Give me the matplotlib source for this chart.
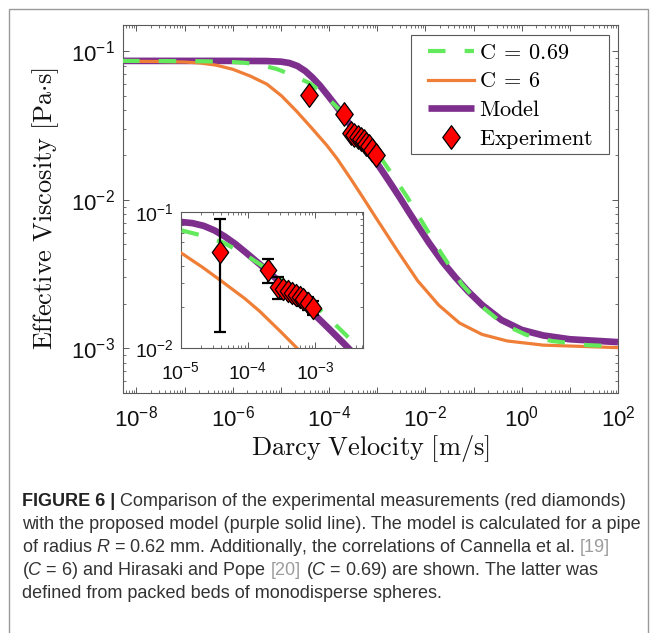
import numpy as np
import matplotlib
matplotlib.use("Agg")
import matplotlib.pyplot as plt
from matplotlib.ticker import LogLocator, NullFormatter
from matplotlib.patches import Rectangle
from matplotlib.path import Path
from matplotlib.font_manager import FontProperties

plt.rcParams['font.family'] = ['Liberation Sans', 'DejaVu Sans']
plt.rcParams['mathtext.fontset'] = 'custom'
plt.rcParams['mathtext.rm'] = 'Liberation Sans'
plt.rcParams['mathtext.it'] = 'Liberation Sans:italic'
plt.rcParams['mathtext.bf'] = 'Liberation Sans:bold'

# ---------------- data ----------------
v_c069 = [5e-9, 2.5e-7, 8.3e-7, 1.75e-6, 3.7e-6, 8.3e-6, 1.9e-5, 4.2e-5, 8.5e-5,
          1.75e-4, 3.6e-4, 7.5e-4, 1.25e-3, 2.5e-3, 4.2e-3, 7.7e-3, 2.1e-2, 5.7e-2,
          0.158, 0.42, 1.25, 4.2, 23, 100]
mu_c069 = [0.086, 0.0855, 0.0848, 0.0835, 0.081, 0.0757, 0.0682, 0.0602, 0.0500,
           0.0395, 0.0305, 0.0232, 0.0187, 0.0134, 0.0104, 0.0075, 0.0044, 0.0027,
           0.00188, 0.00145, 0.00123, 0.00112, 0.00105, 0.00103]

v_c6 = [5e-9, 3e-8, 1e-7, 2.1e-7, 4.5e-7, 1.0e-6, 2.3e-6, 5.1e-6, 1.03e-5, 2.1e-5,
        4.3e-5, 9e-5, 1.5e-4, 3e-4, 5e-4, 9.3e-4, 2.55e-3, 6.9e-3, 1.9e-2, 5.1e-2,
        0.15, 0.5, 2.8, 100]
mu_c6 = [0.0855, 0.0852, 0.0845, 0.0832, 0.0805, 0.0755, 0.068, 0.0600, 0.0500, 0.0395,
         0.0305, 0.0232, 0.0187, 0.0134, 0.0104, 0.0076, 0.0046, 0.00285, 0.00195, 0.00148,
         0.00124, 0.00112, 0.00105, 0.00101]

v_model = [5e-9, 1e-6, 5e-6, 1e-5, 1.5e-5, 2.2e-5, 3.2e-5, 4.5e-5, 6.5e-5, 9.6e-5,
           1.5e-4, 2.4e-4, 4e-4, 6e-4, 1e-3, 1.5e-3, 2.8e-3, 4.5e-3, 6.9e-3, 1.2e-2,
           2.3e-2, 4.2e-2, 7.6e-2, 0.15, 0.38, 1.0, 2.8, 10, 100]
mu_model = [0.086, 0.086, 0.0858, 0.0850, 0.0832, 0.0795, 0.0735, 0.0665, 0.0585, 0.0500,
            0.0415, 0.0338, 0.0270, 0.0222, 0.0175, 0.0144, 0.0106, 0.0083, 0.0067, 0.0051,
            0.0038, 0.0030, 0.00243, 0.00196, 0.00155, 0.00133, 0.00122, 0.00115, 0.0011]

v_exp = [3.9e-5, 2.0e-4, 2.85e-4, 3.35e-4, 3.9e-4, 4.5e-4, 5.2e-4, 5.9e-4, 6.7e-4, 7.7e-4, 9.3e-4]
mu_exp = [0.051, 0.0378, 0.0282, 0.0272, 0.0265, 0.0256, 0.0247, 0.0238, 0.0229, 0.0216, 0.0199]
err_low = [0.0378, 0.0075, 0.0053, 0.0030, 0.0030, 0.0028, 0.0027, 0.0026, 0.0025, 0.0024, 0.0022]
err_high = [0.039, 0.0076, 0.0055, 0.0030, 0.0030, 0.0028, 0.0027, 0.0026, 0.0025, 0.0024, 0.0022]

main_xticks = [1e-8, 1e-7, 1e-6, 1e-5, 1e-4, 1e-3, 1e-2, 1e-1, 1e0, 1e1, 1e2]
main_xlabels = [r'$\mathrm{10^{-8}}$', '', r'$\mathrm{10^{-6}}$', '', r'$\mathrm{10^{-4}}$', '',
                r'$\mathrm{10^{-2}}$', '', r'$\mathrm{10^{0}}$', '', r'$\mathrm{10^{2}}$']
main_yticks = [1e-3, 1e-2, 1e-1]
main_ylabels = [r'$\mathrm{10^{-3}}$', r'$\mathrm{10^{-2}}$', r'$\mathrm{10^{-1}}$']
inset_xticks = [1e-5, 1e-4, 1e-3]
inset_xlabels = [r'$\mathrm{10^{-5}}$', r'$\mathrm{10^{-4}}$', r'$\mathrm{10^{-3}}$']
inset_yticks = [1e-2, 1e-1]
inset_ylabels = [r'$\mathrm{10^{-2}}$', r'$\mathrm{10^{-1}}$']

legend_labels = [r'$\mathrm{C\:=\:0.69}$', r'$\mathrm{C\:=\:6}$', r'$\mathrm{Model}$',
                 r'$\mathrm{Experiment}$']

DARK, REF, BOLD = '#333333', '#9c9c9c', '#222222'
caption_segments = [
    [("FIGURE 6 |", BOLD, 'bold'), ("Comparison of the experimental measurements (red diamonds)", DARK, 'normal')],
    [("with the proposed model (purple solid line). The model is calculated for a pipe", DARK, 'normal')],
    [("of radius $R$ = 0.62 mm. Additionally, the correlations of Cannella et al.", DARK, 'normal'),
     ("[19]", REF, 'normal')],
    [("($C$ = 6) and Hirasaki and Pope", DARK, 'normal'), ("[20]", REF, 'normal'),
     ("($C$ = 0.69) are shown. The latter was", DARK, 'normal')],
    [("defined from packed beds of monodisperse spheres.", DARK, 'normal')],
]

# ---------------- styles ----------------
GREEN = '#62EA5C'
ORANGE = '#EF7F37'
PURPLE = '#7E2F8E'
AXC = '#5a5a5a'
diamond = Path([(0, 1), (0.74, 0), (0, -1), (-0.74, 0), (0, 1)],
               [Path.MOVETO, Path.LINETO, Path.LINETO, Path.LINETO, Path.CLOSEPOLY])

W, H = 655, 633
fig = plt.figure(figsize=(W / 100, H / 100), dpi=100)
fig.patch.set_facecolor('white')


def fx(px):
    return px / W


def fy(py):
    return 1 - py / H


def style_axes(ax, fs, xpad, ypad):
    ax.set_xscale('log')
    ax.set_yscale('log')
    for s in ax.spines.values():
        s.set_color(AXC)
        s.set_linewidth(0.8)
    ax.xaxis.set_minor_locator(LogLocator(base=10, subs=np.arange(2, 10), numticks=100))
    ax.yaxis.set_minor_locator(LogLocator(base=10, subs=np.arange(2, 10), numticks=100))
    ax.xaxis.set_minor_formatter(NullFormatter())
    ax.yaxis.set_minor_formatter(NullFormatter())
    ax.tick_params(which='both', direction='in', top=True, right=True, color=AXC,
                   labelsize=fs, labelcolor='#111111')
    ax.tick_params(which='major', length=4.5, width=0.7)
    ax.tick_params(which='minor', length=2.3, width=0.6)
    ax.tick_params(axis='x', which='major', pad=xpad)
    ax.tick_params(axis='y', which='major', pad=ypad)


# ---------------- main axes ----------------
AX_L, AX_R, AX_T, AX_B = 123, 618, 25, 393
ax = fig.add_axes([fx(AX_L), fy(AX_B), (AX_R - AX_L) / W, (AX_B - AX_T) / H])
style_axes(ax, 16, 9, 6)
l_model, = ax.plot(v_model, mu_model, color=PURPLE, lw=4.8, solid_capstyle='butt', zorder=2)
l_c6, = ax.plot(v_c6, mu_c6, color=ORANGE, lw=2.3, zorder=3)
l_c069, = ax.plot(v_c069, mu_c069, color=GREEN, lw=3.0, ls=(0, (4.2, 4.6)), zorder=4)
l_exp, = ax.plot(v_exp, mu_exp, ls='none', marker=diamond, ms=17, mfc='#FF0000',
                 mec='black', mew=0.9, zorder=5)
ax.set_xlim(5.25e-9, 100)
ax.set_ylim(5.0e-4, 0.15)
ax.set_xticks(main_xticks)
ax.set_xticklabels(main_xlabels)
ax.set_yticks(main_yticks)
ax.set_yticklabels(main_ylabels)

ax.set_xlabel(r'$\mathrm{Darcy\ Velocity\ [m/s]}$', fontsize=19, math_fontfamily='cm',
              va='center', color='#111111')
ax.xaxis.set_label_coords(0.5, (AX_B - 449) / (AX_B - AX_T))
ax.set_ylabel(r'$\mathrm{Effective\ Viscosity\ [Pa{\cdot}s]}$', fontsize=19,
              math_fontfamily='cm', va='center', color='#111111')
ax.yaxis.set_label_coords((46 - AX_L) / (AX_R - AX_L), 0.5)


def ax_x(px):
    return (px - AX_L) / (AX_R - AX_L)


def ax_y(py):
    return (AX_B - py) / (AX_B - AX_T)


# legend box (frame drawn separately for the wider side padding of the reference)
ax.add_patch(Rectangle((ax_x(411), ax_y(154)), ax_x(609) - ax_x(411), ax_y(35) - ax_y(154),
                       transform=ax.transAxes, facecolor='white', edgecolor=AXC,
                       lw=0.8, zorder=6))
leg = ax.legend([l_c069, l_c6, l_model, l_exp], legend_labels,
                loc='upper left', bbox_to_anchor=(ax_x(428), ax_y(43)), borderaxespad=0,
                prop=FontProperties(size=16, math_fontfamily='cm'),
                handlelength=2.08, handletextpad=0.2, labelspacing=0.33,
                borderpad=0.0, frameon=False)
leg.set_zorder(7)

# ---------------- inset ----------------
axi = fig.add_axes([fx(180.7), fy(348.3), (362.7 - 180.7) / W, (348.3 - 212.3) / H])
style_axes(axi, 14, 9, 5)
axi.plot(v_model, mu_model, color=PURPLE, lw=4.8, solid_capstyle='butt', zorder=2)
axi.plot(v_c6, mu_c6, color=ORANGE, lw=2.3, zorder=3)
axi.plot(v_c069, mu_c069, color=GREEN, lw=3.0, ls=(0, (4.2, 4.6)), zorder=4)
axi.errorbar(v_exp, mu_exp, yerr=[err_low, err_high], fmt='none', ecolor='black',
             elinewidth=1.6, capsize=4, capthick=1.6, zorder=5)
axi.plot(v_exp, mu_exp, ls='none', marker=diamond, ms=16, mfc='#FF0000',
         mec='black', mew=0.9, zorder=6)
axi.set_xlim(1e-5, 5.1e-3)
axi.set_ylim(1e-2, 1e-1)
axi.set_xticks(inset_xticks)
axi.set_xticklabels(inset_xlabels)
axi.set_yticks(inset_yticks)
axi.set_yticklabels(inset_ylabels)

# ---------------- frame and caption ----------------
fig.add_artist(Rectangle((fx(8.5), -0.05), (648 - 8.5) / W, fy(9) + 0.05,
                         transform=fig.transFigure, fill=False, edgecolor='#9a9a9a',
                         lw=1.0, zorder=0))

renderer = fig.canvas.get_renderer()
cap_fs = 13
probe1 = fig.text(0, 0, "aa", fontsize=cap_fs)
probe2 = fig.text(0, 0, "a a", fontsize=cap_fs)
space_px = probe2.get_window_extent(renderer).width - probe1.get_window_extent(renderer).width
probe1.remove()
probe2.remove()

baselines = [506, 529, 552, 575, 598]
for yb, segs in zip(baselines, caption_segments):
    xpos = 22.0
    for k, (txt, col, wt) in enumerate(segs):
        t = fig.text(fx(xpos), fy(yb), txt, fontsize=cap_fs, color=col, fontweight=wt,
                     va='baseline', ha='left')
        xpos = t.get_window_extent(renderer).x1 + space_px

fig.savefig('out.png', dpi=100, facecolor='white')
